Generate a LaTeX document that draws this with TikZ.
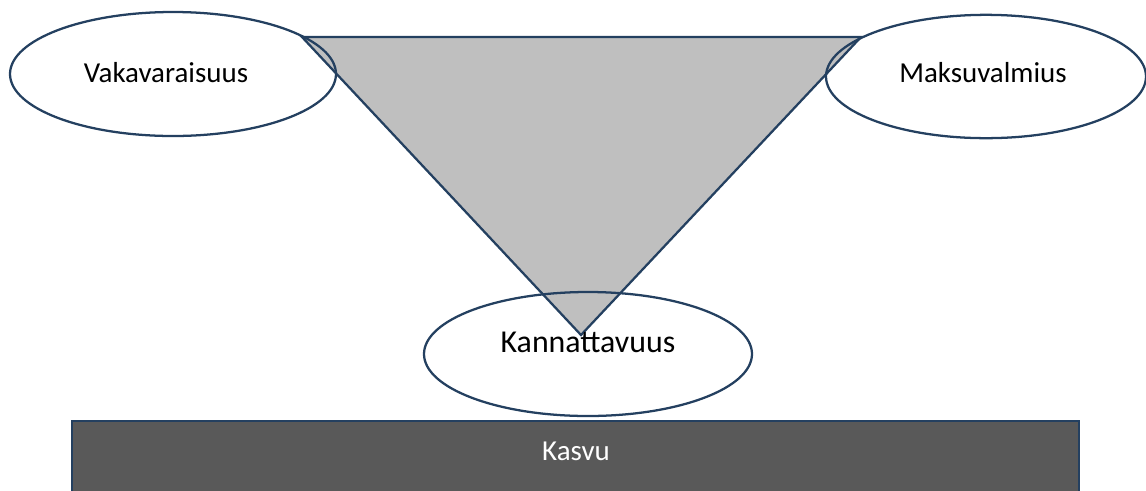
\documentclass[tikz,border=0pt]{standalone}
\usepackage{fontspec}
\setmainfont{Carlito}
\usetikzlibrary{shapes.geometric}
\definecolor{edge}{RGB}{36,64,96}
\definecolor{trifill}{RGB}{191,191,191}
\definecolor{barfill}{RGB}{89,89,89}
\tikzset{
  oval/.style={ellipse, draw=edge, line width=1.7pt, inner sep=0pt},
  lbl/.style={font=\fontsize{21.7}{24}\selectfont, anchor=base, inner sep=0pt, text=black},
  biglbl/.style={lbl, font=\fontsize{23.9}{26}\selectfont},
  barlbl/.style={font=\fontsize{21.7}{24}\selectfont, anchor=base, inner sep=0pt, text=white},
}
\begin{document}
\begin{tikzpicture}[x=0.75pt, y=-0.75pt]
\useasboundingbox (0,0) rectangle (1146,490);
% triangle fill
\coordinate (tl) at (302,37);
\coordinate (tr) at (861,37);
\coordinate (tb) at (581,335);
\fill[trifill] (tl) -- (tr) -- (tb) -- cycle;
% ellipses
\node[oval, minimum width=244.5pt, minimum height=93pt] (vaka) at (173,74) {};
\node[oval, minimum width=240pt, minimum height=92.5pt] (maksu) at (986,76.5) {};
\node[oval, minimum width=246pt, minimum height=93pt] (kanna) at (588,354) {};
% triangle outline
\draw[edge, line width=1.7pt, line join=miter] (tl) -- (tr) -- (tb) -- cycle;
% texts
\node[lbl] (tvaka) at (166,82) {Vakavaraisuus};
\node[lbl] (tmaksu) at (983,82) {Maksuvalmius};
\node[biglbl] (tkanna) at (588,352) {Kannattavuus};
% bar
\draw[fill=barfill, draw=edge, line width=1.7pt] (72,421) rectangle (1079,500);
\node[barlbl] (kasvu) at (576,460) {Kasvu};
\end{tikzpicture}
\end{document}
